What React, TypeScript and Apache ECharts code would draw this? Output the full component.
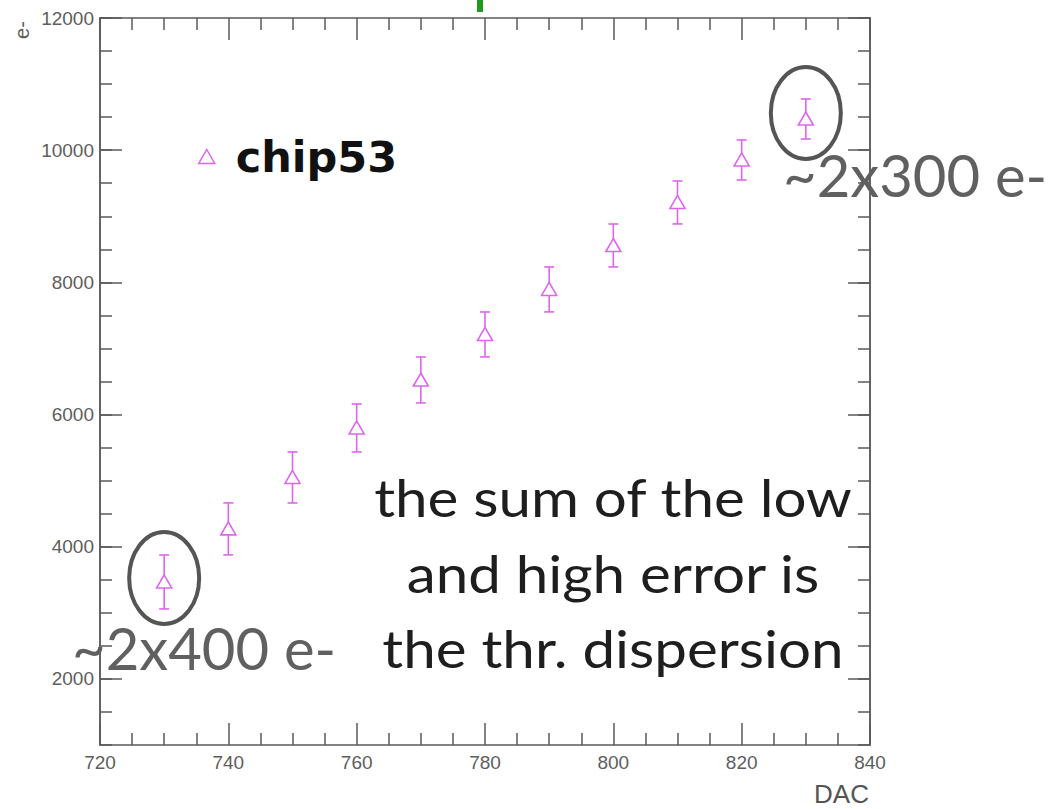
import React, { useEffect, useRef } from "react";
import * as echarts from "echarts";

// Threshold (e-) versus DAC setting, with the threshold dispersion as error bars
const dac = [730, 740, 750, 760, 770, 780, 790, 800, 810, 820, 830];
const threshold = [3467, 4270, 5048, 5797, 6523, 7212, 7893, 8558, 9209, 9852, 10472];
const errLow = [408, 393, 386, 363, 348, 340, 340, 325, 325, 303, 303];
const errHigh = [408, 393, 386, 363, 348, 340, 340, 325, 325, 303, 303];

const xTicks = { min: 720, max: 840, step: 20 };
const yMajor = [2000, 4000, 6000, 8000, 10000, 12000];
const yRange = { min: 1000, max: 12000, minorStep: 500 };

const seriesName = "chip53";
const circled = [0, 10]; // indices of the highlighted points

const MAG = "#dd66ee";
const AX = "#5a5a5a";
const LABEL = "#5e5e5e";

export default function App() {
  const ref = useRef<HTMLDivElement>(null);

  useEffect(() => {
    if (!ref.current) return;
    const chart = echarts.init(ref.current, undefined, { renderer: "svg" });

    const tickLine = { color: AX, width: 1.5 };
    const plain = (v: number) => String(v);
    const xBase = (pos: "bottom" | "top", labels: boolean) => ({
      type: "value",
      position: pos,
      min: xTicks.min,
      max: xTicks.max,
      interval: xTicks.step,
      axisLine: { show: true, onZero: false, lineStyle: tickLine },
      axisTick: { show: true, inside: true, length: 22, lineStyle: tickLine },
      minorTick: { show: true, splitNumber: 4, length: 12, lineStyle: tickLine },
      splitLine: { show: false },
      minorSplitLine: { show: false },
      axisLabel: {
        show: labels,
        formatter: plain,
        color: LABEL,
        fontSize: 19,
        fontFamily: "Liberation Sans",
        margin: 8,
        showMinLabel: true,
        showMaxLabel: true,
      },
    });
    const yMinorAxis = (pos: "left" | "right") => ({
      type: "value",
      position: pos,
      min: yRange.min,
      max: yRange.max,
      interval: yRange.minorStep,
      axisLine: { show: true, onZero: false, lineStyle: tickLine },
      axisTick: { show: true, inside: true, length: 12, lineStyle: tickLine },
      axisLabel: { show: false },
      splitLine: { show: false },
    });
    const yMajorAxis = (pos: "left" | "right", labels: boolean) => ({
      type: "value",
      position: pos,
      min: yRange.min,
      max: yRange.max,
      axisLine: { show: true, onZero: false, lineStyle: tickLine },
      axisTick: { show: true, inside: true, length: 22, lineStyle: tickLine, customValues: yMajor },
      axisLabel: {
        show: labels,
        customValues: yMajor,
        formatter: plain,
        color: LABEL,
        fontSize: 19,
        fontFamily: "Liberation Sans",
        margin: 6,
        showMinLabel: true,
        showMaxLabel: true,
      },
      splitLine: { show: false },
    });

    const data = dac.map((d, i) => [d, threshold[i], errLow[i], errHigh[i]]);

    const option: any = {
      animation: false,
      backgroundColor: "#ffffff",
      grid: { left: 100, right: 183, top: 18, bottom: 64, containLabel: false },
      legend: {
        show: true,
        left: 198,
        top: 135,
        padding: 0,
        itemWidth: 16,
        itemHeight: 14,
        data: [{ name: seriesName, icon: "path://M8,0 L16,14 L0,14 Z" }],
        itemStyle: { color: "rgba(0,0,0,0)", borderColor: MAG, borderWidth: 1.5 },
        textStyle: {
          color: "#111111",
          fontSize: 43,
          fontWeight: "bold",
          fontFamily: "DejaVu Sans",
          padding: [0, 0, 0, 16],
        },
      },
      xAxis: [xBase("bottom", true), xBase("top", false)],
      yAxis: [yMinorAxis("left"), yMajorAxis("left", true), yMinorAxis("right"), yMajorAxis("right", false)],
      series: [
        {
          name: seriesName,
          type: "custom",
          xAxisIndex: 0,
          yAxisIndex: 0,
          itemStyle: { color: MAG },
          encode: { x: 0, y: 1 },
          data,
          renderItem: (params: any, api: any) => {
            const x = api.value(0);
            const y = api.value(1);
            const lo = api.value(2);
            const hi = api.value(3);
            const c = api.coord([x, y]);
            const top = api.coord([x, y + hi]);
            const bot = api.coord([x, y - lo]);
            const halfW = 7.5;
            const apex = c[1] - 7;
            const base = c[1] + 6;
            const cap = 5;
            const style = { stroke: MAG, lineWidth: 1.6, fill: "none" };
            return {
              type: "group",
              children: [
                { type: "line", shape: { x1: c[0], y1: top[1], x2: c[0], y2: apex }, style },
                { type: "line", shape: { x1: c[0], y1: base, x2: c[0], y2: bot[1] }, style },
                { type: "line", shape: { x1: c[0] - cap, y1: top[1], x2: c[0] + cap, y2: top[1] }, style },
                { type: "line", shape: { x1: c[0] - cap, y1: bot[1], x2: c[0] + cap, y2: bot[1] }, style },
                {
                  type: "polygon",
                  shape: {
                    points: [
                      [c[0], apex],
                      [c[0] + halfW, base],
                      [c[0] - halfW, base],
                    ],
                  },
                  style,
                },
              ],
            };
          },
        },
      ],
    };
    chart.setOption(option);

    // Ellipses drawn around the highlighted points
    const ellipses = circled.map((i, k) => {
      const p = chart.convertToPixel({ xAxisIndex: 0, yAxisIndex: 0 }, [dac[i], threshold[i]]) as number[];
      return {
        type: "ellipse",
        shape: { cx: p[0], cy: p[1] - (k === 0 ? 4 : 6), rx: 35, ry: 46 },
        style: { fill: "none", stroke: "#555555", lineWidth: 4 },
        z: 10,
      };
    });

    const bigFont = "Lato";
    const graphic: any[] = [
      ...ellipses,
      {
        type: "rect",
        shape: { x: 477, y: 0, width: 6, height: 12 },
        style: { fill: "#1f9a1f" },
      },
      {
        type: "text",
        x: 22,
        y: 30,
        rotation: Math.PI / 2,
        style: {
          text: "e-",
          fill: LABEL,
          fontSize: 20,
          fontFamily: "Liberation Sans",
          align: "center",
          verticalAlign: "middle",
        },
      },
      {
        type: "text",
        x: 869,
        y: 794,
        style: {
          text: "DAC",
          fill: "#555555",
          fontSize: 26,
          fontFamily: "Liberation Sans",
          align: "right",
          verticalAlign: "middle",
        },
      },
      {
        type: "text",
        x: 783,
        y: 174,
        z: 20,
        style: { text: "~2x300 e-", fill: "#606060", fontSize: 58, fontFamily: bigFont, align: "left", verticalAlign: "middle" },
      },
      {
        type: "text",
        x: 72,
        y: 647,
        z: 20,
        style: { text: "~2x400 e-", fill: "#606060", fontSize: 58, fontFamily: bigFont, align: "left", verticalAlign: "middle" },
      },
      ...["the sum of the low", "and high error is", "the thr. dispersion"].map((t, i) => ({
        type: "text",
        x: 613,
        y: 497 + i * 75.5,
        z: 20,
        scaleX: 1.1,
        style: { text: t, fill: "#1e1e1e", fontSize: 53, fontFamily: bigFont, align: "center", verticalAlign: "middle" },
      })),
    ];
    chart.setOption({ graphic });

    return () => chart.dispose();
  }, []);

  return (
    <div
      ref={ref}
      style={{ position: "absolute", left: 0, top: 0, width: 1053, height: 809, background: "#fff" }}
    />
  );
}
